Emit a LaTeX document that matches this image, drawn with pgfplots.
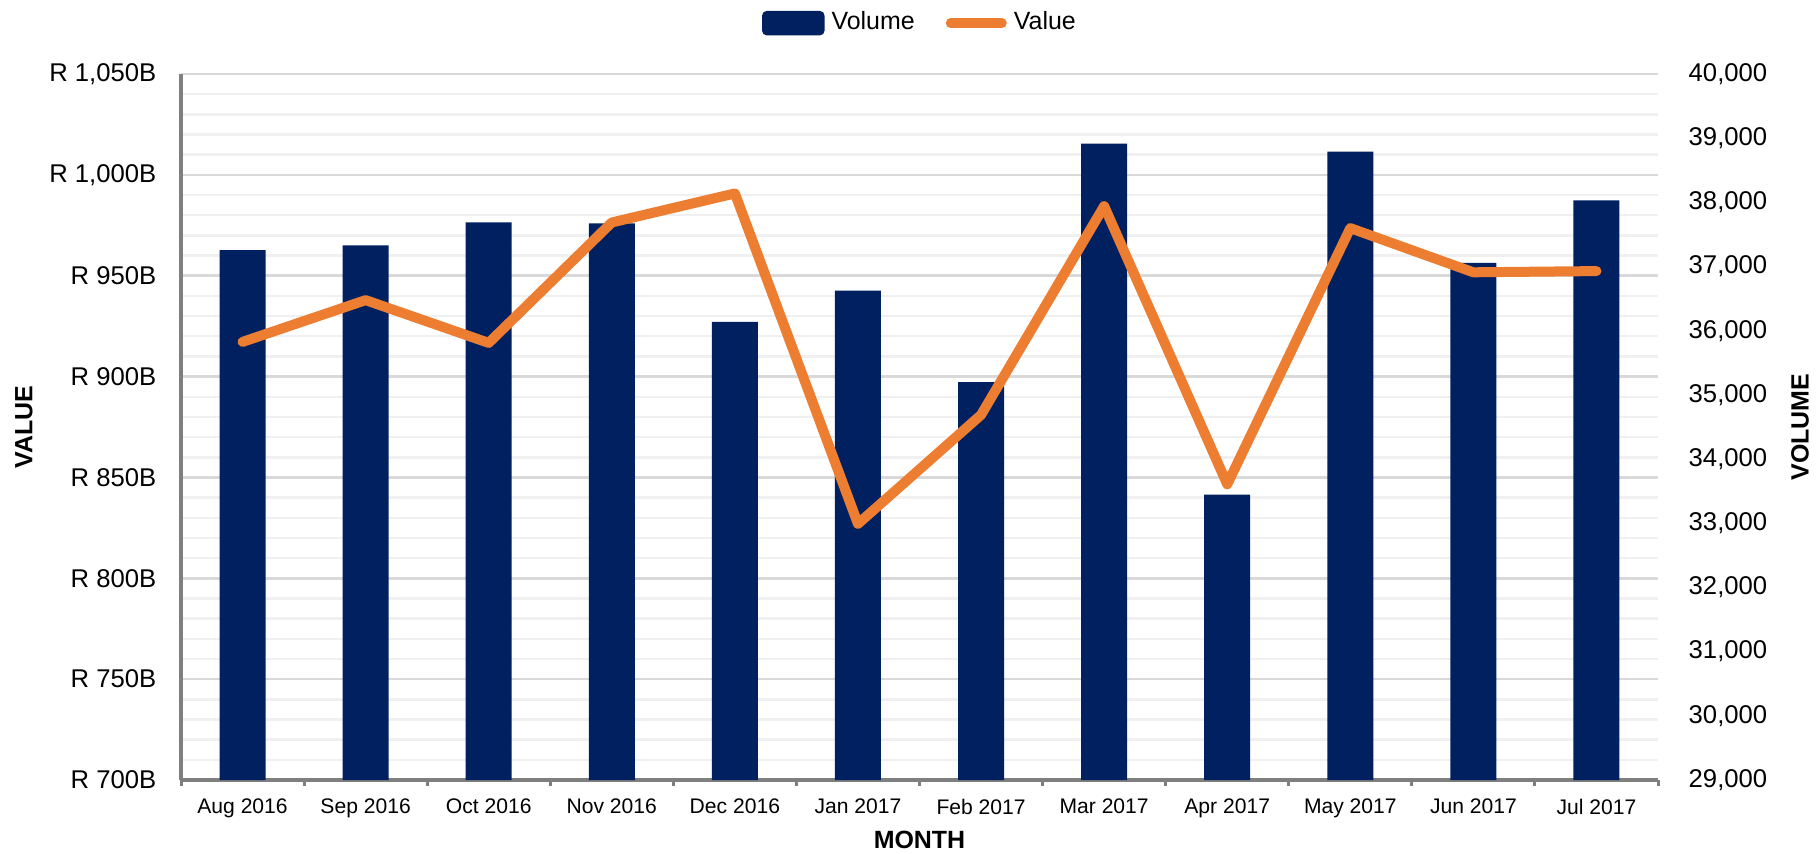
\documentclass[border=0pt]{standalone}
\usepackage{pgfplots}
\pgfplotsset{compat=1.18}
\usepackage{fontspec}
\setmainfont{Liberation Sans}

\definecolor{barnavy}{HTML}{002060}
\definecolor{lineorange}{HTML}{ED7D31}
\definecolor{gridmaj}{HTML}{D9D9D9}
\definecolor{gridmin}{HTML}{F0F0F0}
\definecolor{axisgray}{HTML}{7F7F7F}

\newcommand{\ticksize}{\fontsize{7.3}{8.5}\selectfont}
\newcommand{\xticksize}{\fontsize{6.0}{7}\selectfont}
\newcommand{\labsize}{\fontsize{7.1}{8.5}\selectfont\bfseries}

\begin{document}
\begin{tikzpicture}
\useasboundingbox (-18.1mm,-7.3mm) rectangle (163.5mm,78.0mm);
\pgfplotsset{
  every axis/.append style={
    scale only axis, width=147.7mm, height=70.6mm,
    at={(0,0)}, anchor=south west,
    xmin=0.5, xmax=12.5,
    scaled y ticks=false,
  },
}
% left axis: value, grid and months
\begin{axis}[
    ymin=700, ymax=1050,
    ytick={700,750,...,1050},
    yticklabels={R 700B,R 750B,R 800B,R 850B,R 900B,R 950B,{R 1,000B},{R 1,050B}},
    minor y tick num=4,
    ymajorgrids, yminorgrids,
    major grid style={draw=gridmaj, line width=0.25mm},
    minor grid style={draw=gridmin, line width=0.25mm},
    axis x line*=bottom, axis y line*=left,
    axis line style={draw=axisgray, line width=0.35mm, -},
    xtick={1,...,12},
    xticklabels={Aug 2016,Sep 2016,Oct 2016,Nov 2016,Dec 2016,Jan 2017,Feb 2017,Mar 2017,Apr 2017,May 2017,Jun 2017,Jul 2017},
    minor xtick={0.5,1.5,...,12.5},
    tick align=outside,
    major tick length=0pt, minor tick length=0.6mm,
    minor tick style={draw=axisgray, line width=0.3mm},
    minor y tick style={draw=none},
    yticklabel style={font=\ticksize, inner sep=0pt, anchor=east, xshift=-2.4mm},
    xticklabel style={font=\xticksize, inner sep=0pt, anchor=north, yshift=-1.8mm},
    xlabel={MONTH}, ylabel={VALUE},
    xlabel style={font=\labsize, at={(axis description cs:0.5,-0.085)}, anchor=center},
    ylabel style={font=\labsize, at={(axis description cs:-0.1063,0.5)}, anchor=center, rotate=0},
  ]
\end{axis}
% right axis: volume bars
\begin{axis}[
    ymin=29000, ymax=40000,
    ytick={29000,30000,...,40000},
    yticklabels={{29,000},{30,000},{31,000},{32,000},{33,000},{34,000},{35,000},{36,000},{37,000},{38,000},{39,000},{40,000}},
    axis y line*=right, axis x line=none,
    y axis line style={draw=none},
    major tick length=0pt,
    yticklabel style={font=\ticksize, inner sep=0pt, anchor=west, xshift=3.0mm},
    ylabel={VOLUME},
    ylabel style={font=\labsize, at={(axis description cs:1.0961,0.5)}, anchor=center, rotate=0},
  ]
\addplot[ybar, bar width=4.6mm, fill=barnavy, draw=none] coordinates {
  (1,37256) (2,37329) (3,37690) (4,37672) (5,36137) (6,36625)
  (7,35199) (8,38917) (9,33448) (10,38791) (11,37058) (12,38032)};
\end{axis}
% value line on top
\begin{axis}[
    ymin=700, ymax=1050,
    hide axis,
    legend columns=2,
    legend style={draw=none, fill=none, font=\fontsize{7.1}{8.5}\selectfont,
      at={(0.502,1.072)}, anchor=center,
      /tikz/every even column/.append style={column sep=2.4mm},
      inner sep=0pt},
  ]
\addlegendimage{legend image code/.code={
  \fill[barnavy, rounded corners=0.4mm] (0mm,-1.15mm) rectangle (6.1mm,1.15mm);}}
\addlegendentry{Volume}
\addplot[lineorange, line width=1mm, line cap=round, line join=round,
  legend image code/.code={
  \draw[lineorange, line width=1mm, line cap=round] (0.5mm,0) -- (5.6mm,0);}]
  coordinates {
  (1,917.2) (2,937.9) (3,916.7) (4,976.4) (5,990.8) (6,827.0)
  (7,881.0) (8,984.5) (9,846.6) (10,973.6) (11,951.7) (12,952.3)};
\addlegendentry{Value}
\end{axis}
\end{tikzpicture}
\end{document}
